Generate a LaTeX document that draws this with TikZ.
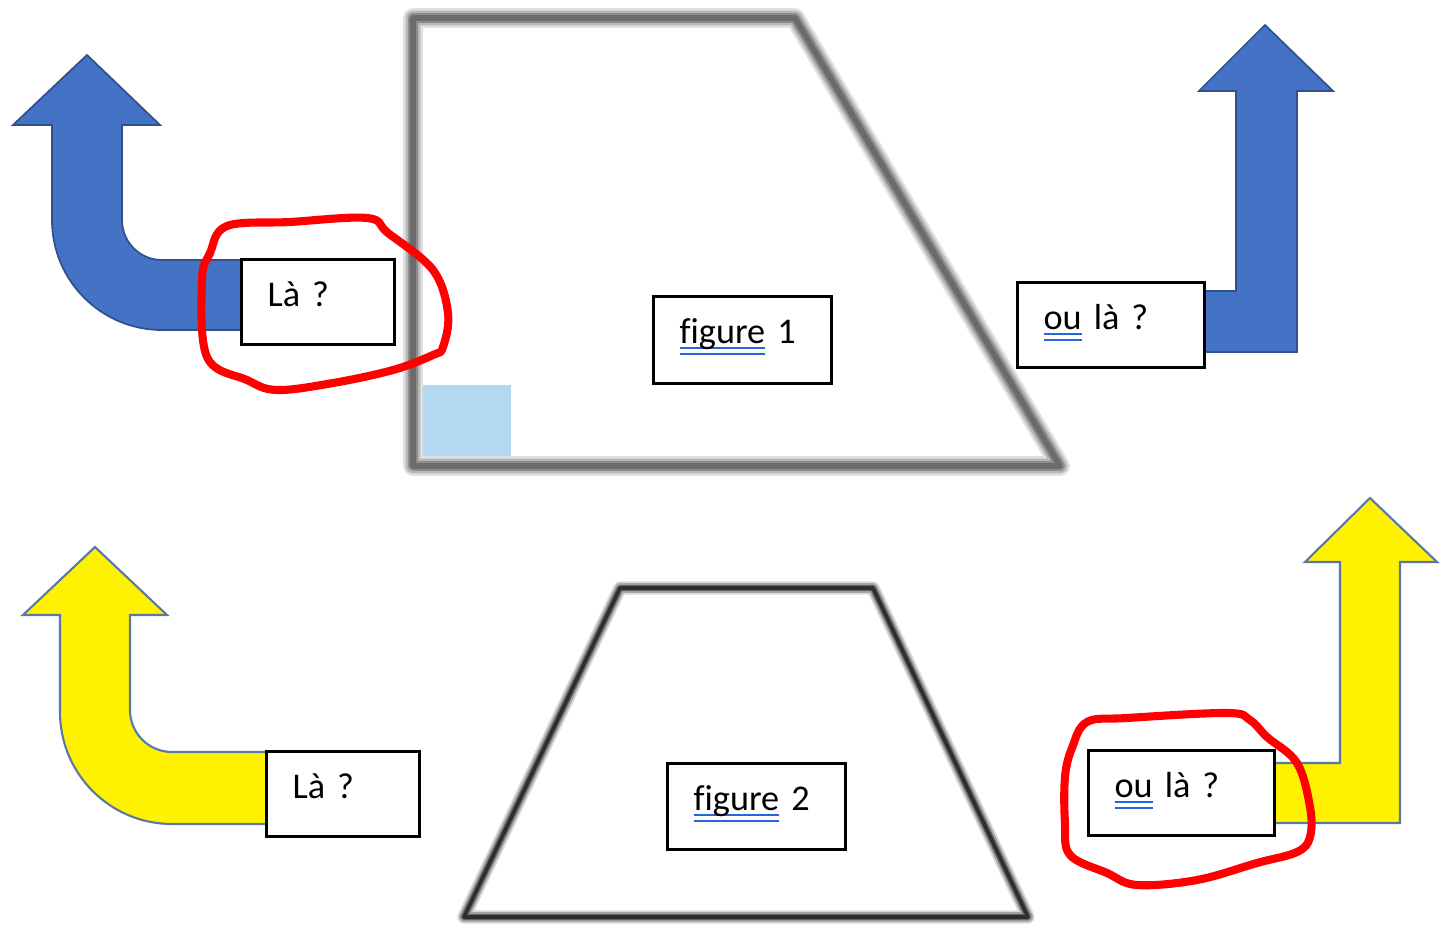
\documentclass[tikz,border=0pt]{standalone}
\usepackage{fontspec}
\setmainfont{Carlito}[Ligatures=NoCommon]
\definecolor{arrowblue}{HTML}{4472C4}
\definecolor{blueedge}{HTML}{2F528F}
\definecolor{yellowedge}{HTML}{5A78A5}
\definecolor{spellblue}{RGB}{40,100,225}
\definecolor{cornerblue}{RGB}{178,216,242}
\newcommand\spell[1]{\setbox0\hbox{#1}\rlap{\textcolor{spellblue}{\rule[-1.45pt]{\wd0}{0.55pt}}}\rlap{\textcolor{spellblue}{\rule[-3.1pt]{\wd0}{0.55pt}}}\box0\relax}
\tikzset{
  txtbox/.style={draw, line width=0.9pt, fill=white, anchor=north west, inner xsep=0.26cm, inner ysep=0pt,
    text height=13.4pt, text depth=10.8pt, align=left, font=\fontsize{10.3}{12}\selectfont},
  bluearrow/.style={fill=arrowblue, draw=blueedge, line width=0.5pt},
  yellowarrow/.style={fill=yellow, draw=yellowedge, line width=0.6pt},
  circled/.style={draw=red, line width=2.3pt, line cap=round, line join=round}
}
\begin{document}
\begin{tikzpicture}[x=0.01cm,y=-0.01cm]
\useasboundingbox (0,0) rectangle (1447,933);
% figure 1
\fill[cornerblue] (418,385) rectangle (511,462);
\foreach \w/\c in {5.6/12,4.2/28,2.8/45,1.6/58}{
	\draw[line width=\w pt,black!\c,line join=round] (413,18) -- (795,18) -- (1060,466) -- (413,466) -- cycle;
}
% figure 2
\foreach \w/\c in {3.8/15,2.8/35,1.8/60,1/82}{
	\draw[line width=\w pt,black!\c,line join=round] (620,588) -- (873,588) -- (1028,917) -- (464,917) -- cycle;
}
% arrows
\draw[bluearrow] (250,260) -- (162,260) arc[start angle=90,end angle=180,radius=40] -- (122,125) -- (160,125)
	-- (87,55) -- (13,125) -- (52,125) -- (52,220) arc[start angle=180,end angle=90,radius=110] -- (250,330) -- cycle;
\draw[bluearrow] (1195,291) -- (1236,291) -- (1236,91) -- (1199,91) -- (1265,25) -- (1333,91) -- (1297,91)
	-- (1297,352) -- (1195,352) -- cycle;
\draw[yellowarrow] (275,752) -- (172,752) arc[start angle=90,end angle=180,radius=42] -- (130,615) -- (167,615)
	-- (95,547) -- (23,615) -- (60,615) -- (60,712) arc[start angle=180,end angle=90,radius=112] -- (275,824) -- cycle;
\draw[yellowarrow] (1265,763) -- (1340,763) -- (1340,562) -- (1305,562) -- (1370,498) -- (1437,562) -- (1400,562)
	-- (1400,823) -- (1265,823) -- cycle;
% text boxes
\node[txtbox,text width=1.01cm] (la1) at (240,258) {Là ?};
\node[txtbox,text width=1.26cm,text depth=11.4pt] (fig1) at (652,295) {\spell{figure} 1};
\node[txtbox,text width=1.35cm] (oula1) at (1016,281) {\spell{ou} là ?};
\node[txtbox,text width=1.01cm] (la2) at (265,750) {Là ?};
\node[txtbox,text width=1.26cm,text depth=11.1pt] (fig2) at (666,762) {\spell{figure} 2};
\node[txtbox,text width=1.34cm] (oula2) at (1087,749) {\spell{ou} là ?};
% hand drawn loops
\draw[circled] plot[smooth cycle,tension=0.6] coordinates {(210,253) (227,226) (290,222) (367,218) (388,233) (433,270)
	(448,313) (443,347) (433,355) (393,370) (333,383) (277,390) (247,380) (207,357) (202,280)};
\draw[circled] plot[smooth cycle,tension=0.6] coordinates {(1072,748) (1087,722) (1127,718) (1227,713) (1250,720)
	(1267,737) (1297,763) (1310,807) (1310,837) (1297,852) (1257,863) (1197,880) (1137,885) (1107,873) (1070,855)
	(1065,823) (1065,777)};
\end{tikzpicture}
\end{document}
